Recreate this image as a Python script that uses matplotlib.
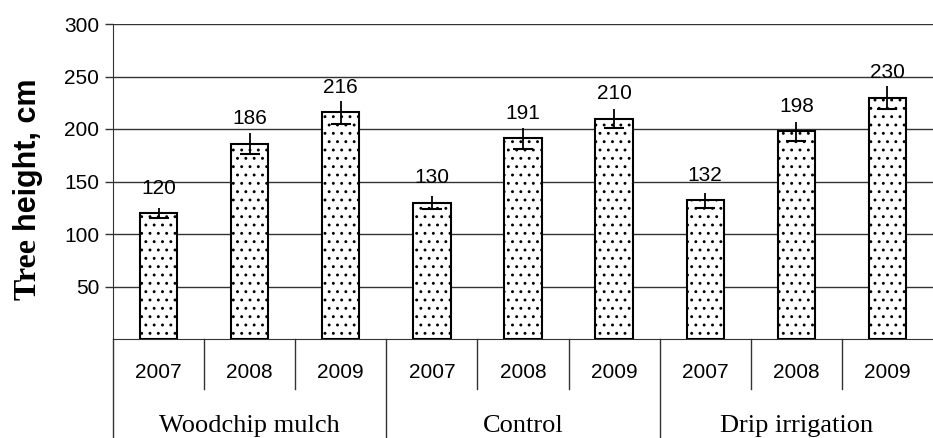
import matplotlib.pyplot as plt
import numpy as np

groups = ['Woodchip mulch', 'Control', 'Drip irrigation']
years = ['2007', '2008', '2009']
heights = [120, 186, 216, 130, 191, 210, 132, 198, 230]
errors = [5, 10, 11, 6, 10, 9, 7, 9, 11]
yticks = [50, 100, 150, 200, 250, 300]

plt.rcParams['hatch.color'] = '#666666'
plt.rcParams['hatch.linewidth'] = 0.9

fig = plt.figure(figsize=(9.33, 4.38), dpi=100)
ax = fig.add_axes([113 / 933, 1 - 339 / 438, 820 / 933, 315 / 438])

x = np.arange(len(heights))
ax.bar(x, heights, width=0.41, color='white', edgecolor='black',
       linewidth=1.5, hatch='..', zorder=3)

# error bars: line through the bar top, cap only at the lower end
ax.errorbar(x, heights, yerr=errors, fmt='none', ecolor='black',
            elinewidth=1.3, capsize=0, zorder=4)
ax.plot(x, np.array(heights) - np.array(errors), linestyle='none',
        marker='_', markersize=14, markeredgewidth=1.5, color='black', zorder=4)

for xi, h in zip(x, heights):
    ax.annotate(str(h), (xi, h), xytext=(0, 11), textcoords='offset points',
                ha='center', va='bottom', fontsize=15, family='Liberation Sans')

ax.set_xlim(-0.5, len(heights) - 0.5)
ax.set_ylim(0, 300)
ax.set_yticks(yticks)
ax.set_yticklabels([str(t) for t in yticks], fontsize=15, family='Liberation Sans')
ax.yaxis.grid(True, color='#333333', linewidth=1.0, zorder=0)
ax.set_xticks([])
for s in ['top', 'right']:
    ax.spines[s].set_visible(False)
ax.spines['left'].set_color('#333333')
ax.spines['bottom'].set_color('#333333')
ax.tick_params(axis='y', length=6, width=1, color='#333333', pad=4)

# two-level category labels below the axis
trans = ax.get_xaxis_transform()
for i, yr in enumerate(years * len(groups)):
    ax.text(i, -0.105, yr, transform=trans, ha='center', va='center',
            fontsize=15, family='Liberation Sans')
for i in range(1, len(heights)):
    if i % 3 == 0:
        ax.plot([i - 0.5, i - 0.5], [0, -0.32], transform=trans, color='#333333',
                linewidth=1.0, clip_on=False)
    else:
        ax.plot([i - 0.5, i - 0.5], [0, -0.16], transform=trans, color='#333333',
                linewidth=1.0, clip_on=False)
ax.plot([-0.5, -0.5], [0, -0.32], transform=trans, color='#333333',
        linewidth=1.0, clip_on=False)
for g, name in enumerate(groups):
    ax.text(g * 3 + 1, -0.295, name, transform=trans, ha='center', va='baseline',
            fontsize=19, family='Liberation Serif')

# y label: "Tree" in serif bold, "height, cm" in sans bold
t1 = fig.text(28 / 933, 1 - 300 / 438, 'Tree ', rotation=90, ha='center', va='bottom',
              fontsize=23, fontweight='bold', family='Liberation Serif')
ax.annotate('height, cm', xy=(0.5, 1), xycoords=t1, ha='center', va='bottom',
            rotation=90, fontsize=22, fontweight='bold', family='Liberation Sans')

fig.savefig('out.png', dpi=100)
